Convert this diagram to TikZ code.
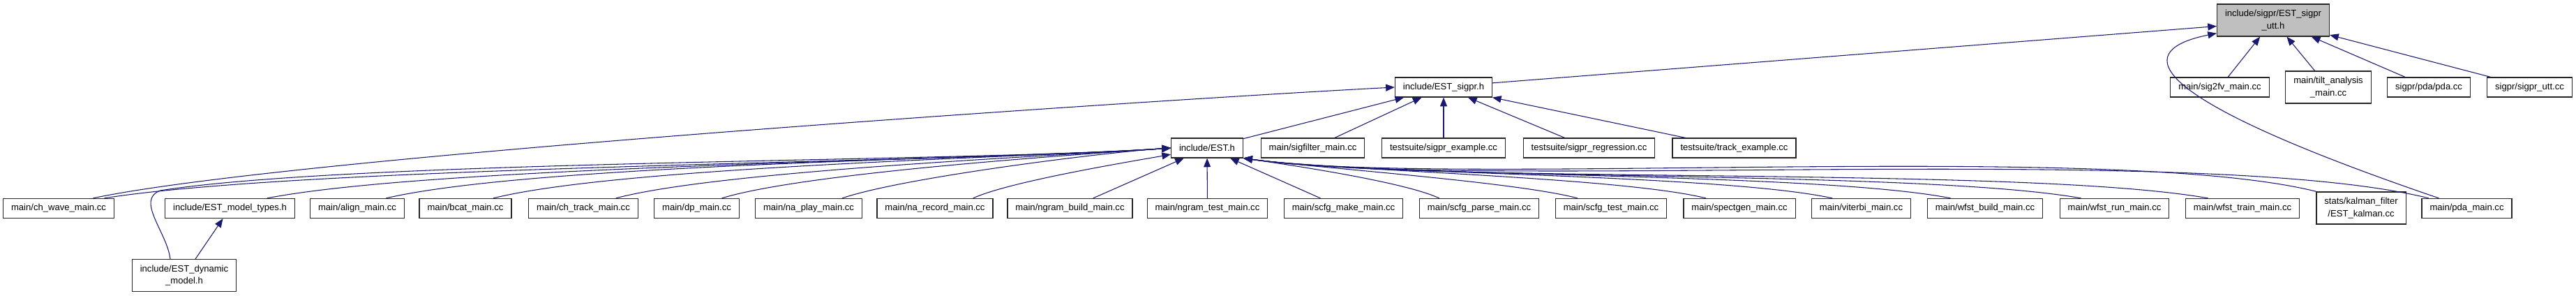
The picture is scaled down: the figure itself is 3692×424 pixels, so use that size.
\documentclass[tikz,border=0pt]{standalone}
\usepackage{fontspec}
\setmainfont{Liberation Sans}
\usetikzlibrary{arrows.meta}
\definecolor{edgeblue}{HTML}{191970}
\definecolor{focus}{HTML}{BFBFBF}
\definecolor{frame}{HTML}{262626}
\tikzset{
  file/.style={draw=frame,fill=white,line width=.9pt,inner xsep=8.6pt,inner ysep=0pt,
    minimum height=21pt,align=center,font=\fontsize{9.8}{13}\selectfont},
  twoline/.style={minimum height=34.5pt},
  inc/.style={draw=edgeblue,line width=.8pt,-{Triangle[length=9.5pt,width=7.5pt]}}}

\begin{document}
\begin{tikzpicture}[x=.75pt,y=-.75pt]
\useasboundingbox (0,0) rectangle (3692,424);
% top two ranks
\node[file,twoline,fill=focus] (utt) at (3258,29) {include/sigpr/EST\_sigpr\\\_utt.h};
\node[file] (sigpr) at (2069,125) {include/EST\_sigpr.h};
\node[file] (sigfv) at (3181.5,125) {main/sig2fv\_main.cc};
\node[file,twoline] (tilt) at (3337,125) {main/tilt\_analysis\\\_main.cc};
\node[file] (pdacc) at (3481,125) {sigpr/pda/pda.cc};
\node[file] (sigprutt) at (3625.5,125) {sigpr/sigpr\_utt.cc};
\node[file] (est) at (1730,212) {include/EST.h};
\node[file] (sigfilter) at (1881.5,212) {main/sigfilter\_main.cc};
\node[file] (sigprex) at (2069,212) {testsuite/sigpr\_example.cc};
\node[file] (sigprreg) at (2277.5,212) {testsuite/sigpr\_regression.cc};
\node[file] (trackex) at (2485.5,212) {testsuite/track\_example.cc};
% bottom rank
\node[file] (chwave) at (84,298.5) {main/ch\_wave\_main.cc};
\node[file] (modeltypes) at (329.5,298.5) {include/EST\_model\_types.h};
\node[file] (align) at (512,298.5) {main/align\_main.cc};
\node[file] (bcat) at (667,298.5) {main/bcat\_main.cc};
\node[file] (chtrack) at (836,298.5) {main/ch\_track\_main.cc};
\node[file] (dp) at (998.5,298.5) {main/dp\_main.cc};
\node[file] (naplay) at (1159,298.5) {main/na\_play\_main.cc};
\node[file] (narecord) at (1340,298.5) {main/na\_record\_main.cc};
\node[file] (ngrambuild) at (1533.5,298.5) {main/ngram\_build\_main.cc};
\node[file] (ngramtest) at (1730.5,298.5) {main/ngram\_test\_main.cc};
\node[file] (scfgmake) at (1925.5,298.5) {main/scfg\_make\_main.cc};
\node[file] (scfgparse) at (2120,298.5) {main/scfg\_parse\_main.cc};
\node[file] (scfgtest) at (2309,298.5) {main/scfg\_test\_main.cc};
\node[file] (spectgen) at (2493,298.5) {main/spectgen\_main.cc};
\node[file] (viterbi) at (2667.5,298.5) {main/viterbi\_main.cc};
\node[file] (wfstbuild) at (2845,298.5) {main/wfst\_build\_main.cc};
\node[file] (wfstrun) at (3030.5,298.5) {main/wfst\_run\_main.cc};
\node[file] (wfsttrain) at (3214,298.5) {main/wfst\_train\_main.cc};
\node[file,twoline] (kalman) at (3384,298) {stats/kalman\_filter\\/EST\_kalman.cc};
\node[file] (pdamain) at (3535.5,298.5) {main/pda\_main.cc};
\node[file,twoline] (dynamic) at (264,394.5) {include/EST\_dynamic\\\_model.h};
% includes of EST_sigpr_utt.h
\draw[inc] (sigpr.5) -- (utt.186);
\foreach \s in {sigfv,tilt,pdacc,sigprutt} {\draw[inc] (\s) -- (utt);}
\draw[inc] ([xshift=-30pt]pdamain.north) .. controls (3000,115) and (3090,65) .. (utt.193);
% includes of EST_sigpr.h
\foreach \s in {est,sigfilter,sigprex,sigprreg,trackex} {\draw[inc] (\s) -- (sigpr);}
\draw[inc] ([xshift=37pt]chwave.north) .. controls +(287,-61) and +(-293,15) .. (sigpr.west);
% includes of EST.h
\foreach \s/\dx/\a/\b/\c/\d in {chwave/49/296/-47/-299/21,modeltypes/40/249/-48/-253/18,
    align/31/215/-50/-220/15,bcat/30/185/-46/-190/13,chtrack/35/151/-40/-156/11,
    dp/27/121/-37/-127/9,naplay/36/88/-30/-93/6}
  {\draw[inc] ([xshift=\dx pt]\s.north) .. controls +(\a,\b) and +(\c,\d) .. (est.west);}
\draw[inc] ([xshift=41pt]narecord.north) .. controls +(52,-24) and +(-56,10) .. (est.190);
\foreach \s in {ngrambuild,ngramtest,scfgmake} {\draw[inc] (\s) -- (est);}
\foreach \s/\dx/\a/\b/\c/\d in {scfgparse/-43/-51/-24/55/8,scfgtest/-36/-91/-24/93/13,
    spectgen/-36/-126/-31/129/18,viterbi/-31/-162/-35/164/23,wfstbuild/-37/-195/-38/197/28,
    wfstrun/-36/-231/-41/233/33,wfsttrain/-37/-267/-47/268/38,kalman/-48/-292/-73/298/42,
    pdamain/-41/-325/-81/332/47}
  {\draw[inc] ([xshift=\dx pt]\s.north) .. controls +(\a,\b) and +(\c,\d) .. (est.south east);}
\draw[inc] ([xshift=-15pt]dynamic.north) to[out=97,in=200] ++(-14,-98)
  .. controls +(280,-44) and +(-283,20) .. (est.west);
\draw[inc] (dynamic) -- (modeltypes);
\end{tikzpicture}
\end{document}
